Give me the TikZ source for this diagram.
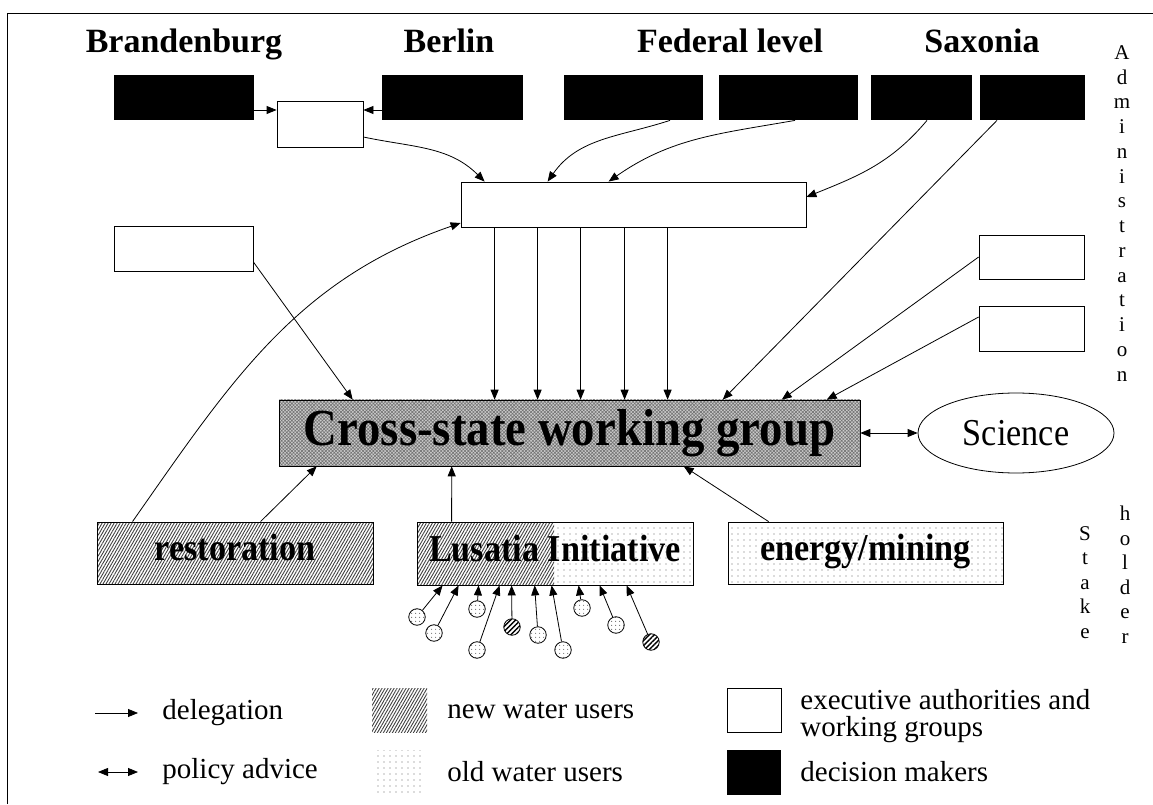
\documentclass[tikz,border=0pt]{standalone}
\usepackage{fontspec}
\setmainfont{Liberation Serif}
\newfontfamily\tallserif{Liberation Serif}[FakeStretch=0.9]
\usetikzlibrary{arrows.meta,patterns,patterns.meta,shapes.geometric}

\tikzset{
  >={Triangle[length=10pt,width=8pt]},
  title/.style={font=\fontsize{34}{40}\selectfont\bfseries, anchor=base},
  decider/.style={fill=black, inner sep=0, minimum height=45},
  office/.style={draw, fill=white, inner sep=0, minimum height=45},
  newfill/.style={pattern={Lines[angle=60,distance=2.6pt,line width=0.9pt]}, pattern color=black!75},
  oldfill/.style={pattern={Dots[distance=6pt,radius=0.6pt]}, pattern color=black!60},
  cross/.style={draw, inner sep=0, preaction={fill=gray!40}, pattern={Hatch[angle=45,distance=2.4pt,line width=0.6pt]}, pattern color=black!55, font=\tallserif\fontsize{52}{60}\selectfont\bfseries},
  stake/.style={draw, inner sep=0, minimum width=276, minimum height=62, text height=25, text depth=10, font=\tallserif\fontsize{38}{44}\selectfont\bfseries},
  olduser/.style={draw, circle, inner sep=0, minimum size=16.5, pattern={Dots[distance=4pt,radius=0.6pt]}, pattern color=black!70},
  newuser/.style={draw, circle, inner sep=0, minimum size=16.5, pattern={Lines[angle=45,distance=3.5pt,line width=1.4pt]}},
  letters/.style={anchor=north, inner sep=0, align=center, font=\fontsize{21}{24.75}\selectfont},
  legend/.style={anchor=west, inner sep=0, align=left, font=\fontsize{29}{27}\selectfont}
}

\begin{document}
\begin{tikzpicture}[x=1pt,y=1pt,line width=0.8pt]
\useasboundingbox (0,0) rectangle (1153,804);
\draw (7,0) -- (7,791) -- (1153,791);

% states and federal level
\node [title] (t0) at (184,751) {Brandenburg};
\node [title] (t1) at (449,751) {Berlin};
\node [title] (t2) at (730,751) {Federal level};
\node [title] (t3) at (982,751) {Saxonia};

\node [decider, minimum width=140] (k0) at (184,706.5) {};
\node [decider, minimum width=141] (k1) at (452.5,706.5) {};
\node [decider, minimum width=139] (k2) at (633.5,706.5) {};
\node [decider, minimum width=139] (k3) at (788.5,706.5) {};
\node [decider, minimum width=101] (k4) at (921.5,706.5) {};
\node [decider, minimum width=105] (k5) at (1032.5,706.5) {};

\node [office, minimum width=86, minimum height=46] (w0) at (320,680) {};
\node [office, minimum width=345] (w1) at (633.5,599.5) {};
\node [office, minimum width=139] (w2) at (183.5,555.5) {};
\node [office, minimum width=105, minimum height=44] (w3) at (1031.5,547) {};
\node [office, minimum width=105] (w4) at (1031.5,475.5) {};

\node [cross, minimum width=581, minimum height=66] (c0) at (569.5,371) {Cross-state working group};
\node [draw, ellipse, inner sep=0, minimum width=196, minimum height=80, font=\tallserif\fontsize{38}{44}\selectfont] (e0) at (1016,371) {Science};

% stakeholder
\node [stake, newfill] (s0) at (235,251) {restoration};
\fill [newfill] (417,219) rectangle (554,282);
\fill [oldfill] (554,219) rectangle (693,282);
\node [stake, minimum height=63] (s1) at (555,250.5) {Lusatia Initiative};
\node [stake, oldfill, minimum width=275] (s2) at (865.5,251) {energy/mining};

\node [letters] (v0) at (1122,759) {A\\d\\m\\i\\n\\i\\s\\t\\r\\a\\t\\i\\o\\n};
\node [letters, font=\fontsize{21}{24.5}\selectfont] (v1) at (1085,278) {S\\t\\a\\k\\e};
\node [letters, font=\fontsize{21}{24.5}\selectfont] (v2) at (1125,298) {h\\o\\l\\d\\e\\r};

\node [olduser] (u0) at (417,187) {};
\node [olduser] (u1) at (434,171) {};
\node [olduser] (u2) at (477,195) {};
\node [olduser] (u3) at (477,154) {};
\node [newuser] (u4) at (512,177) {};
\node [olduser] (u5) at (538,169) {};
\node [olduser] (u6) at (563,154) {};
\node [olduser] (u7) at (582,196) {};
\node [olduser] (u8) at (616,179) {};
\node [newuser] (u9) at (651,162) {};

% delegation
\draw [->] ([yshift=-12.5]k0.east) -- ([yshift=-12.5]k0.east -| w0.west);
\draw [->] ([yshift=-12.5]k1.west) -- ([yshift=-12.5]k1.west -| w0.east);
\draw [->] ([yshift=-13]w0.east) to[out=-12, in=135] ([xshift=24]w1.north west);
\draw [->] ([xshift=36.5]k2.south) to[out=198, in=55] ([xshift=87]w1.north west);
\draw [->] ([xshift=6.5]k3.south) to[out=190, in=35] ([xshift=148]w1.north west);
\draw [->] ([xshift=5.5]k4.south) to[out=230, in=22] ([yshift=7.5]w1.east);
\draw [->] ([xshift=-35.5]k5.south) -- ([xshift=444]c0.north west);

\draw [->] ([xshift=34]w1.south west) -- ([xshift=34]w1.south west |- c0.north);
\draw [->] ([xshift=77]w1.south west) -- ([xshift=77]w1.south west |- c0.north);
\draw [->] ([xshift=120]w1.south west) -- ([xshift=120]w1.south west |- c0.north);
\draw [->] ([xshift=164]w1.south west) -- ([xshift=164]w1.south west |- c0.north);
\draw [->] ([xshift=207]w1.south west) -- ([xshift=207]w1.south west |- c0.north);

\draw [->] ([yshift=-13.5]w2.east) -- ([xshift=74]c0.north west);
\draw [->] (w3.west) -- ([xshift=503]c0.north west);
\draw [->] ([yshift=11.5]w4.west) -- ([xshift=548]c0.north west);

\draw [->] ([xshift=36]s0.north west) to[out=55, in=199] ([yshift=-18.5]w1.west);
\draw [->] ([xshift=164]s0.north west) -- ([xshift=38]c0.south west);
\draw [->] ([xshift=35]s1.north west) -- ([xshift=173]c0.south west);
\draw [->] ([xshift=41]s2.north west) -- ([xshift=405]c0.south west);

% policy advice
\draw [<->] (c0) -- (e0);

\draw [->] (u0) -- ([xshift=26]s1.south west);
\draw [->] (u1) -- ([xshift=42]s1.south west);
\draw [->] (u2) -- ([xshift=62]s1.south west);
\draw [->] (u3) -- ([xshift=83]s1.south west);
\draw [->] (u4) -- ([xshift=95]s1.south west);
\draw [->] (u5) -- ([xshift=118]s1.south west);
\draw [->] (u6) -- ([xshift=135]s1.south west);
\draw [->] (u7) -- ([xshift=162]s1.south west);
\draw [->] (u8) -- ([xshift=183]s1.south west);
\draw [->] (u9) -- ([xshift=210]s1.south west);

% legend
\coordinate (a0) at (95,91);
\coordinate (a1) at (138,91);
\coordinate (a2) at (98,32);
\coordinate (a3) at (138,32);
\draw [->] (a0) -- (a1);
\draw [<->] (a2) -- (a3);
\node [legend] (l0) at (162,91) {delegation};
\node [legend] (l1) at (162,32) {policy advice};

\node [newfill, minimum width=55, minimum height=44, inner sep=0] (l2) at (399.5,94) {};
\node [oldfill, minimum width=51, minimum height=42, inner sep=0] (l3) at (398.5,33) {};
\node [legend] (l4) at (447,94) {new water users};
\node [legend] (l5) at (447,32) {old water users};

\node [office, minimum width=54, minimum height=44] (l6) at (754,94) {};
\node [decider, minimum width=54] (l7) at (754,31.5) {};
\node [legend] (l8) at (800,87.5) {executive authorities and\\working groups};
\node [legend] (l9) at (800,32) {decision makers};
\end{tikzpicture}
\end{document}
